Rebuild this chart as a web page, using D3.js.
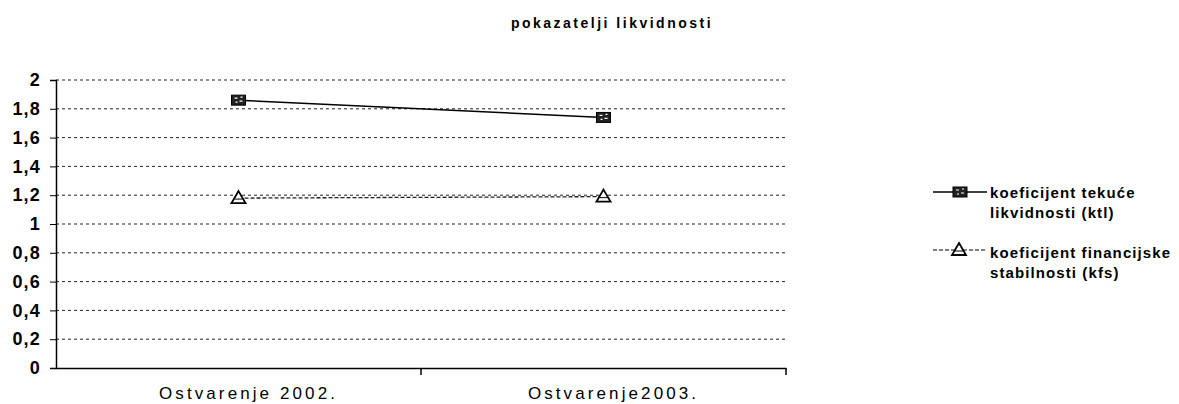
<!DOCTYPE html>
<html><head><meta charset="utf-8">
<script src="https://cdn.jsdelivr.net/npm/d3@7"></script>
<style>body{margin:0;background:#fff}svg{display:block}</style>
</head><body>
<script>
const categories = ["Ostvarenje 2002.", "Ostvarenje2003."];
const ktl = [1.86, 1.74];
const kfs = [1.18, 1.19];
const yTicks = [0, 0.2, 0.4, 0.6, 0.8, 1, 1.2, 1.4, 1.6, 1.8, 2];
const seriesNames = ["koeficijent tekuće|likvidnosti (ktl)", "koeficijent financijske|stabilnosti (kfs)"];
const title = "pokazatelji likvidnosti";

const W = 1179, H = 404;
const svg = d3.select("body").append("svg").attr("width", W).attr("height", H);
const font = "Arial, 'Liberation Sans', sans-serif";

const x = d3.scaleBand().domain(categories).range([56, 786]);
const y = d3.scaleLinear().domain([0, 2]).range([368, 80]);

svg.append("text").attr("x", 612).attr("y", 28).attr("text-anchor", "middle")
  .attr("font-family", font).attr("font-weight", "bold").attr("font-size", 14)
  .attr("letter-spacing", 2.5).text(title);

// gridlines
svg.append("g").selectAll("line").data(yTicks.filter(d => d > 0)).join("line")
  .attr("x1", 56).attr("x2", 786).attr("y1", d => y(d)).attr("y2", d => y(d))
  .attr("stroke", "#222").attr("stroke-width", 1).attr("stroke-dasharray", "3,3");

// y axis
const yAxis = svg.append("g").attr("transform", "translate(56,0)")
  .call(d3.axisLeft(y).tickValues(yTicks).tickSize(6).tickFormat(d => d3.format("")(d).replace(".", ",")));
yAxis.select(".domain").attr("stroke", "#000").attr("stroke-width", 1.5);
yAxis.selectAll(".tick line").attr("stroke", "#000");
yAxis.selectAll("text").attr("font-family", font).attr("font-weight", "bold").attr("font-size", 18)
  .attr("letter-spacing", 1.2).attr("fill", "#000").attr("x", -15);

// x axis
const xAxis = svg.append("g").attr("transform", "translate(0,368)")
  .call(d3.axisBottom(x).tickSize(0).tickPadding(0));
xAxis.select(".domain").attr("stroke", "#000").attr("stroke-width", 1.5);
xAxis.selectAll("text").attr("font-family", font).attr("font-size", 17).attr("fill", "#000")
  .attr("letter-spacing", 3.1).attr("dy", null).attr("y", 31).attr("dx", 10);
// boundary ticks between categories
svg.append("g").selectAll("line").data(categories).join("line")
  .attr("x1", d => x(d) + x.bandwidth()).attr("x2", d => x(d) + x.bandwidth())
  .attr("y1", 368).attr("y2", 375).attr("stroke", "#000").attr("stroke-width", 1.5);

const line = d3.line().x((d, i) => x(categories[i]) + x.bandwidth() / 2).y(d => y(d));

svg.append("path").datum(ktl).attr("d", line).attr("fill", "none").attr("stroke", "#000").attr("stroke-width", 1.5);
svg.append("path").datum(kfs).attr("d", line).attr("fill", "none").attr("stroke", "#222").attr("stroke-width", 1.3).attr("stroke-dasharray", "4,2");

function square(g, cx, cy) {
  g.append("rect").attr("x", cx - 7).attr("y", cy - 5).attr("width", 14).attr("height", 10)
    .attr("fill", "#222").attr("stroke", "#000").attr("stroke-width", 1);
  g.append("path").attr("d", `M${cx-4},${cy-2}h3M${cx+1},${cy+1}h3M${cx-3},${cy+2}h2M${cx+2},${cy-3}h2`)
    .attr("stroke", "#fff").attr("stroke-width", 1.2);
}
function tri(g, cx, cy) {
  g.append("path").attr("d", `M${cx},${cy-7}L${cx+7},${cy+5}L${cx-7},${cy+5}Z`)
    .attr("fill", "#fff").attr("stroke", "#000").attr("stroke-width", 1.8);
  g.append("line").attr("x1", cx - 4).attr("x2", cx + 4).attr("y1", cy + 1).attr("y2", cy + 1).attr("stroke", "#000");
}
const mk = svg.append("g");
ktl.forEach((v, i) => square(mk, x(categories[i]) + x.bandwidth() / 2, y(v)));
kfs.forEach((v, i) => tri(mk, x(categories[i]) + x.bandwidth() / 2, y(v)));

// legend
const leg = svg.append("g");
const legY = [198, 258];
const markY = [192, 250];
seriesNames.forEach((name, i) => {
  const my = markY[i];
  leg.append("line").attr("x1", 933).attr("x2", 987).attr("y1", my).attr("y2", my)
    .attr("stroke", "#000").attr("stroke-width", i === 0 ? 1.5 : 1.2).attr("stroke-dasharray", i === 0 ? null : "4,2");
  if (i === 0) square(leg, 960, my); else tri(leg, 959, my);
  const parts = name.split("|");
  parts.forEach((p, j) => {
    leg.append("text").attr("x", 990).attr("y", legY[i] + j * 20).attr("font-family", font)
      .attr("font-weight", "bold").attr("font-size", 15).attr("letter-spacing", 1.1).attr("fill", "#000").text(p);
  });
});
</script>
</body></html>
